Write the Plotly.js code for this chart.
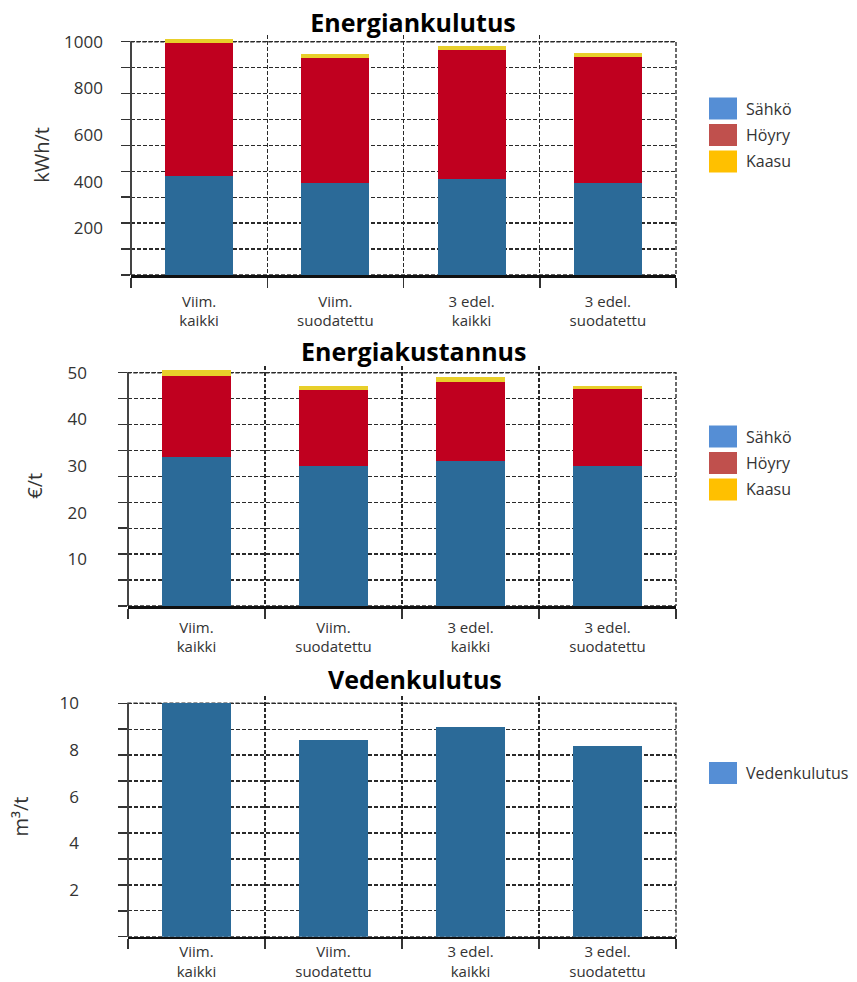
<!DOCTYPE html>
<html>
<head>
<meta charset="utf-8">
<script src="https://cdn.plot.ly/plotly-3.0.1.min.js"></script>
<style>html,body{margin:0;padding:0;background:#fff;}#chart{width:857px;height:982px;}</style>
</head>
<body>
<div id="chart"></div>
<script>
// ---- data ----
var categories = ['Viim.<br>kaikki', 'Viim.<br>suodatettu', '3 edel.<br>kaikki', '3 edel.<br>suodatettu'];
var seriesNames = ['Sähkö', 'Höyry', 'Kaasu'];
var energySahko = [424, 396, 410, 396];
var energyHoyry = [569, 533, 554, 540];
var energyKaasu = [17, 18, 19, 14];
var costSahko = [32.0, 30.0, 31.1, 30.0];
var costHoyry = [17.4, 16.3, 17.0, 16.6];
var costKaasu = [1.1, 0.9, 0.9, 0.5];
var waterName = 'Vedenkulutus';
var water = [10.0, 8.43, 9.0, 8.17];
var titles = ['Energiankulutus', 'Energiakustannus', 'Vedenkulutus'];
var yTitles = ['kWh/t', '€/t', 'm³/t'];
var yTicks1 = [200, 400, 600, 800, 1000];
var yTicks2 = [10, 20, 30, 40, 50];
var yTicks3 = [2, 4, 6, 8, 10];

// ---- styles ----
var barColors = ['#2b6a98', '#c0001f', '#e8cf2a'];
var legendColors = ['#558ed5', '#c0504d', '#ffc000'];
var FONT = 'Open Sans, Noto Sans, sans-serif';
var txt = '#333333';
var gridC = '#2a2a2a';
var dash = '4px,2px';
var PAD = 1.03;

var traces = [];
function addStack(vals, xa, ya) {
  vals.forEach(function (v, i) {
    traces.push({type: 'bar', x: categories, y: v, name: seriesNames[i], xaxis: xa, yaxis: ya,
      marker: {color: barColors[i], line: {width: 0}}, showlegend: false});
  });
}
addStack([energySahko, energyHoyry, energyKaasu], 'x', 'y');
addStack([costSahko, costHoyry, costKaasu], 'x2', 'y2');
traces.push({type: 'bar', x: categories, y: water, name: waterName, xaxis: 'x3', yaxis: 'y3',
  marker: {color: barColors[0], line: {width: 0}}, showlegend: false});

var H = 982, W = 857;
function py(p) { return 1 - p / H; }
function px(p) { return p / W; }

function xAxis(anchor, x0, lblStandoff) {
  return {domain: [px(x0), px(676)], anchor: anchor, type: 'category', tickson: 'boundaries',
    ticks: 'outside', ticklen: 10, tickwidth: 1.5, tickcolor: '#333',
    showline: true, linecolor: '#111', linewidth: 2.5,
    showgrid: true, gridcolor: gridC, gridwidth: 1.4, griddash: dash,
    tickfont: {family: FONT, size: 15, color: txt}, ticklabelstandoff: lblStandoff, fixedrange: true};
}
function yAxis(anchor, top, bot, max, ticks, title, standoffLbl, standoffTitle) {
  var topPad = bot - (bot - top) * PAD;
  return {domain: [py(bot), py(topPad)], anchor: anchor, range: [0, max * PAD], tickmode: 'array', tickvals: ticks,
    ticks: '', showgrid: false, zeroline: false, showline: false,
    minor: {tick0: 0, dtick: max / 9, ticks: 'outside', ticklen: 9, tickwidth: 1.5, tickcolor: '#333',
      showgrid: true, gridcolor: gridC, gridwidth: 1.4, griddash: dash},
    tickfont: {family: FONT, size: 17, color: txt}, ticklabelstandoff: standoffLbl,
    title: {text: title, font: {family: FONT, size: 20, color: txt}, standoff: standoffTitle}, fixedrange: true};
}

var shapes = [];
var annotations = [];
[['x', 'y', 1000], ['x2', 'y2', 50], ['x3', 'y3', 10]].forEach(function (p) {
  // dashed frame (top / right)
  shapes.push({type: 'rect', xref: p[0] + ' domain', yref: p[1], x0: 0, x1: 1, y0: 0, y1: p[2],
    line: {color: gridC, width: 1.4, dash: dash}, layer: 'below'});
  // solid left axis line
  shapes.push({type: 'line', xref: p[0] + ' domain', yref: p[1], x0: 0, x1: 0, y0: 0, y1: p[2],
    line: {color: '#444', width: 2}, layer: 'above'});
});
// legends
function legend(names, colors, topPx) {
  names.forEach(function (n, i) {
    var t = topPx + i * 26.5;
    shapes.push({type: 'rect', xref: 'paper', yref: 'paper', x0: px(709), x1: px(737), y0: py(t + 22), y1: py(t),
      fillcolor: colors[i], line: {width: 0}});
    annotations.push({xref: 'paper', yref: 'paper', x: px(744), y: py(t + 11), xanchor: 'left', yanchor: 'middle',
      text: n, showarrow: false, font: {family: FONT, size: 16, color: txt}});
  });
}
legend(seriesNames, legendColors, 97.5);
legend(seriesNames, legendColors, 425.5);
legend([waterName], [legendColors[0]], 762);

annotations.push({xref: 'paper', yref: 'paper', x: px(413), y: py(351), xanchor: 'center', yanchor: 'middle',
  text: '<b>' + titles[1] + '</b>', showarrow: false, font: {family: FONT, size: 25, color: '#000'}});
annotations.push({xref: 'paper', yref: 'paper', x: px(415), y: py(679), xanchor: 'center', yanchor: 'middle',
  text: '<b>' + titles[2] + '</b>', showarrow: false, font: {family: FONT, size: 25, color: '#000'}});

var layout = {
  width: W, height: H, margin: {l: 0, r: 0, t: 0, b: 0},
  paper_bgcolor: '#fff', plot_bgcolor: '#fff', barmode: 'stack', bargap: 0.5, showlegend: false,
  title: {text: '<b>' + titles[0] + '</b>', x: px(413), y: py(23), xref: 'paper', yref: 'paper',
    xanchor: 'center', yanchor: 'middle', font: {family: FONT, size: 25, color: '#000'}},
  xaxis: xAxis('y', 131, 11), yaxis: yAxis('x', 41.7, 275, 1000, yTicks1, yTitles[0], 27, 9),
  xaxis2: xAxis('y2', 128, 6), yaxis2: yAxis('x2', 372.7, 606, 50, yTicks2, yTitles[1], 40, 19),
  xaxis3: xAxis('y3', 128, 0), yaxis3: yAxis('x3', 703.3, 936.7, 10, yTicks3, yTitles[2], 48, 25),
  shapes: shapes, annotations: annotations, font: {family: FONT, color: txt}
};

Plotly.newPlot('chart', traces, layout, {displayModeBar: false, staticPlot: true});
</script>
</body>
</html>
